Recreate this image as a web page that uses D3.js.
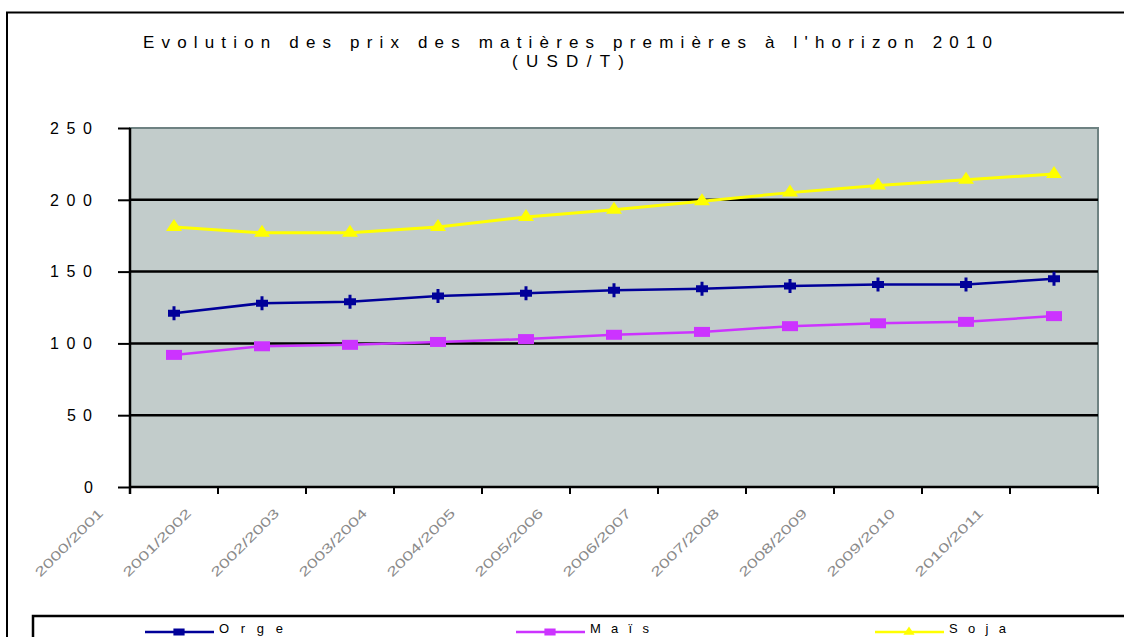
<!DOCTYPE html>
<html>
<head>
<meta charset="utf-8">
<script src="https://cdn.jsdelivr.net/npm/d3@7/dist/d3.min.js"></script>
<style>
  html, body { margin: 0; padding: 0; background: #fff; }
  svg { display: block; font-family: "Liberation Sans", Arial, sans-serif; }
</style>
</head>
<body>
<svg id="chart" width="1124" height="637"></svg>
<script>
const categories = ["2000/2001","2001/2002","2002/2003","2003/2004","2004/2005","2005/2006","2006/2007","2007/2008","2008/2009","2009/2010","2010/2011"];
const orge = [121, 128, 129, 133, 135, 137, 138, 140, 141, 141, 145];
const mais = [92, 98, 99, 101, 103, 106, 108, 112, 114, 115, 119];
const soja = [181, 177, 177, 181, 188, 193, 199, 205, 210, 214, 218];
const yTicks = [0, 50, 100, 150, 200, 250];
const seriesNames = ["Orge", "Maïs", "Soja"];
const titleLines = ["Evolution des prix des matières premières à l'horizon 2010", "(USD/T)"];

const series = [
  {name: seriesNames[0], values: orge, color: "#000099", marker: "cross"},
  {name: seriesNames[1], values: mais, color: "#CC33FF", marker: "square"},
  {name: seriesNames[2], values: soja, color: "#FFFF00", marker: "triangle"}
];

const svg = d3.select("#chart");
const L = 130, R = 1098, T = 128, B = 487;

const x = d3.scaleBand().domain(categories).range([L, R]);
const y = d3.scaleLinear().domain([0, 250]).range([B, T]);

// outer chart border
svg.append("rect").attr("x", 7).attr("y", 12.5).attr("width", 1130).attr("height", 640)
  .attr("fill", "none").attr("stroke", "#000").attr("stroke-width", 2);

// title
svg.append("text").attr("x", 143).attr("y", 48).attr("font-size", 17).attr("fill", "#000")
  .attr("textLength", 849).attr("lengthAdjust", "spacing").text(titleLines[0]);
svg.append("text").attr("x", 512).attr("y", 67).attr("font-size", 17).attr("fill", "#000")
  .attr("textLength", 112).attr("lengthAdjust", "spacing").text(titleLines[1]);

// plot area
svg.append("rect").attr("x", L).attr("y", T).attr("width", R - L).attr("height", B - T)
  .attr("fill", "#C2CCCB").attr("stroke", "#6E8282").attr("stroke-width", 2);

// gridlines
svg.append("g").selectAll("line").data(yTicks.filter(d => d > 0 && d < 250)).join("line")
  .attr("x1", L).attr("x2", R).attr("y1", d => y(d)).attr("y2", d => y(d))
  .attr("stroke", "#000").attr("stroke-width", 2.5);

// y axis
const yAxis = svg.append("g").attr("transform", `translate(${L},0)`)
  .call(d3.axisLeft(y).tickValues(yTicks).tickSize(12).tickFormat(""));
yAxis.select(".domain").attr("stroke", "#000").attr("stroke-width", 2.5).attr("d", `M0,${T}V${B + 7}`);
yAxis.selectAll(".tick line").attr("stroke", "#000").attr("stroke-width", 2);

svg.append("g").selectAll("text").data(yTicks).join("text")
  .attr("y", d => y(d)).attr("dy", "0.36em").attr("font-size", 16).attr("fill", "#000")
  .attr("x", d => 92 - ((String(d).length - 1) * 17 + 8))
  .attr("textLength", d => (String(d).length - 1) * 17 + 8)
  .attr("lengthAdjust", "spacing")
  .text(d => d);

// x axis
const xAxis = svg.append("g").attr("transform", `translate(0,${B})`)
  .call(d3.axisBottom(x).tickSize(0).tickFormat(""));
xAxis.select(".domain").attr("stroke", "#000").attr("stroke-width", 2.5).attr("d", `M${L},0H${R}`);
svg.append("g").selectAll("line").data(d3.range(categories.length + 1)).join("line")
  .attr("x1", i => L + i * x.step()).attr("x2", i => L + i * x.step())
  .attr("y1", B).attr("y2", B + 7).attr("stroke", "#000").attr("stroke-width", 2);

svg.append("g").selectAll("text").data(categories).join("text")
  .attr("transform", d => `translate(${x(d) + x.bandwidth() / 2 - 70},${514}) rotate(-45)`)
  .attr("text-anchor", "end").attr("font-size", 13).attr("fill", "#8a8a8a")
  .attr("textLength", 90).attr("lengthAdjust", "spacingAndGlyphs")
  .text(d => d);

// markers
function markerPath(type) {
  if (type === "cross") return "M-6,-3.5H-1.5V-7H1.5V-3.5H6V3.5H1.5V7H-1.5V3.5H-6Z";
  if (type === "square") return "M-8,-5H8V5H-8Z";
  return "M0,-8L8,4H-8Z";
}

const line = d3.line().x((d, i) => x(categories[i]) + x.bandwidth() / 2).y(d => y(d));

series.forEach(s => {
  const g = svg.append("g");
  g.append("path").datum(s.values).attr("d", line).attr("fill", "none")
    .attr("stroke", s.color).attr("stroke-width", s.marker === "triangle" ? 3 : 2.5);
  g.selectAll("path.m").data(s.values).join("path").attr("class", "m")
    .attr("transform", (d, i) => `translate(${x(categories[i]) + x.bandwidth() / 2},${y(d)})`)
    .attr("d", markerPath(s.marker)).attr("fill", s.color);
});

// legend
svg.append("rect").attr("x", 33).attr("y", 616).attr("width", 1120).attr("height", 60)
  .attr("fill", "#fff").attr("stroke", "#000").attr("stroke-width", 2.5);
const legendX = [145, 516, 875];
const legendLabelW = [64, 59, 57];
series.forEach((s, i) => {
  const lx = legendX[i];
  svg.append("line").attr("x1", lx).attr("x2", lx + 69).attr("y1", 632).attr("y2", 632)
    .attr("stroke", s.color).attr("stroke-width", 2.5);
  svg.append("path").attr("transform", `translate(${lx + 34},632) scale(0.7)`)
    .attr("d", markerPath(s.marker === "cross" ? "square" : s.marker)).attr("fill", s.color);
  svg.append("text").attr("x", lx + 74).attr("y", 633).attr("font-size", 13).attr("fill", "#000")
    .attr("textLength", legendLabelW[i]).attr("lengthAdjust", "spacing").text(s.name);
});
</script>
</body>
</html>
